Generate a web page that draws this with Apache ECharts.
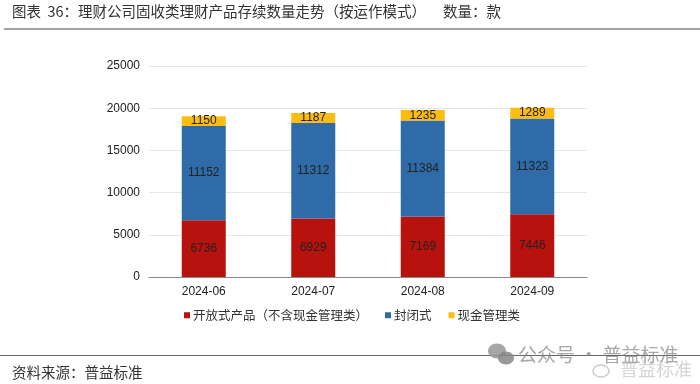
<!DOCTYPE html>
<html><head><meta charset="utf-8">
<style>html,body{margin:0;padding:0;background:#fff}#c{width:700px;height:384px}</style>
<script src="https://cdn.jsdelivr.net/npm/echarts@6/dist/echarts.min.js"></script></head>
<body><div id="c"></div>
<script>
const categories = ['2024-06','2024-07','2024-08','2024-09'];
const openEnded = [6736,6929,7169,7446];
const closedEnd = [11152,11312,11384,11323];
const cashMgmt = [1150,1187,1235,1289];
const seriesNames = ['开放式产品（不含现金管理类）','封闭式','现金管理类'];
const F = '"Noto Sans CJK SC","Liberation Sans",sans-serif';
const N = '"Liberation Sans",sans-serif';
const chart = echarts.init(document.getElementById('c'), null, {renderer:'canvas'});
const lbl = {show:true, position:'inside', color:'#222', fontSize:12, fontFamily:N};
function s(name,data,color){return {name,type:'bar',stack:'a',data,barWidth:44,itemStyle:{color},label:lbl};}
const T = {fontFamily:F,fontSize:14.5,fontWeight:'normal',color:'#333'};
chart.setOption({
  animation:false,
  backgroundColor:'#fff',
  title:[
    {text:'图表  36：理财公司固收类理财产品存续数量走势（按运作模式）',left:12,top:4,padding:0,textStyle:T},
    {text:'数量：款',left:443,top:4,padding:0,textStyle:T},
    {text:'资料来源：普益标准',left:12,top:365,padding:0,textStyle:T}
  ],
  grid:{left:149,right:113,top:66,bottom:107},
  xAxis:{type:'category',data:categories,axisTick:{show:false},
    axisLine:{lineStyle:{color:'#888',width:1}},
    axisLabel:{color:'#222',fontSize:12,margin:9,fontFamily:N}},
  yAxis:{type:'value',min:0,max:25000,interval:5000,axisLine:{show:false},axisTick:{show:false},
    splitLine:{lineStyle:{color:'#e6e6e6',width:1}},
    axisLabel:{color:'#222',fontSize:12,margin:9,fontFamily:N,formatter:v=>String(v)}},
  legend:{left:184,top:309,itemWidth:6,itemHeight:6,itemGap:17,icon:'rect',padding:0,
    textStyle:{fontFamily:F,fontSize:12.5,color:'#333',padding:[0,0,0,-2]},
    data:seriesNames},
  series:[
    s(seriesNames[0],openEnded,'#b8120e'),
    s(seriesNames[1],closedEnd,'#2e6ba8'),
    s(seriesNames[2],cashMgmt,'#fcbc12')
  ],
  graphic:[
    {type:'line',shape:{x1:4,y1:29,x2:700,y2:29},style:{stroke:'#444',lineWidth:1}},
    {type:'line',shape:{x1:0,y1:355.5,x2:700,y2:355.5},style:{stroke:'#666',lineWidth:1.2}},
    {type:'ellipse',shape:{cx:497,cy:351,rx:9,ry:7.5},style:{fill:'rgba(150,150,150,0.85)'}},
    {type:'ellipse',shape:{cx:506,cy:358,rx:8,ry:6.5},style:{fill:'rgba(135,135,135,0.85)'}},
    {type:'text',x:518,y:345,style:{text:'公众号 · 普益标准',fontFamily:F,fontSize:19,fill:'rgba(130,130,130,0.7)'}},
    {type:'ellipse',shape:{cx:601,cy:371,rx:8,ry:6},style:{fill:'none',stroke:'rgba(190,190,190,0.8)',lineWidth:1.5}},
    {type:'text',x:620,y:360,style:{text:'普益标准',fontFamily:F,fontSize:18,fill:'rgba(185,185,185,0.6)'}}
  ]
});
</script></body></html>
